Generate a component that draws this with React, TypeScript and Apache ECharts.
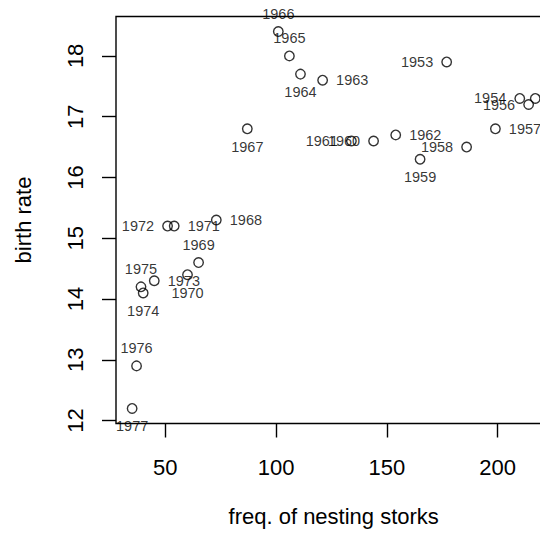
import React, { useEffect, useRef } from "react";
import * as echarts from "echarts";

const years = [
  1953, 1954, 1955, 1956, 1957, 1958, 1959, 1960, 1961, 1962, 1963, 1964, 1965,
  1966, 1967, 1968, 1969, 1970, 1971, 1972, 1973, 1974, 1975, 1976, 1977,
];
const storks = [
  177, 210, 217, 214, 199, 186, 165, 144, 134, 154, 121, 111, 106, 101, 87, 73,
  65, 60, 54, 51, 45, 40, 39, 37, 35,
];
const birthRate = [
  17.9, 17.3, 17.3, 17.2, 16.8, 16.5, 16.3, 16.6, 16.6, 16.7, 17.6, 17.7, 18.0,
  18.4, 16.8, 15.3, 14.6, 14.4, 15.2, 15.2, 14.3, 14.1, 14.2, 12.9, 12.2,
];
// R text() pos codes: 1 below, 2 left, 3 above, 4 right
const labelPos = [
  2, 2, 4, 2, 4, 2, 1, 2, 2, 4, 4, 1, 3, 3, 1, 4, 3, 1, 4, 2, 4, 1, 3, 3, 1,
];
const xTicks = [50, 100, 150, 200];
const yTicks = [12, 13, 14, 15, 16, 17, 18];
const xTitle = "freq. of nesting storks";
const yTitle = "birth rate";

const FONT = "'Liberation Sans', Arial, Helvetica, sans-serif";

function rRange(v: number[]) {
  const lo = Math.min(...v);
  const hi = Math.max(...v);
  const d = (hi - lo) * 0.04;
  return [lo - d, hi + d];
}

const posMap: Record<number, { position: string; distance: number }> = {
  1: { position: "bottom", distance: 5 },
  2: { position: "left", distance: 8 },
  3: { position: "top", distance: 5 },
  4: { position: "right", distance: 8 },
};

export default function App() {
  const ref = useRef<HTMLDivElement>(null);
  useEffect(() => {
    if (!ref.current) return;
    const chart = echarts.init(ref.current, null, { renderer: "svg" });
    const [xMin, xMax] = rRange(storks);
    const [yMin, yMax] = rRange(birthRate);
    const data = years.map((yr, i) => ({
      name: String(yr),
      value: [storks[i], birthRate[i]],
      label: { ...posMap[labelPos[i]] },
    }));
    chart.setOption({
      animation: false,
      backgroundColor: "#ffffff",
      textStyle: { fontFamily: FONT, color: "#000" },
      grid: {
        left: 116,
        top: 16.5,
        width: 435.4,
        height: 407,
        containLabel: false,
        outerBoundsMode: "none",
        show: true,
        borderColor: "#000",
        borderWidth: 1.4,
        backgroundColor: "transparent",
      },
      xAxis: {
        type: "value",
        min: xMin,
        max: xMax,
        name: xTitle,
        nameLocation: "middle",
        nameGap: 82,
        nameTextStyle: { fontSize: 22, color: "#000", fontFamily: FONT },
        axisLine: { show: false },
        splitLine: { show: false },
        axisTick: {
          show: true,
          length: 14,
          customValues: xTicks,
          lineStyle: { color: "#000", width: 1.4 },
        },
        axisLabel: {
          show: true,
          customValues: xTicks,
          margin: 33,
          fontSize: 22,
          color: "#000",
          fontFamily: FONT,
        },
      },
      yAxis: {
        type: "value",
        min: yMin,
        max: yMax,
        name: yTitle,
        nameLocation: "middle",
        nameGap: 82,
        nameRotate: 90,
        nameTextStyle: { fontSize: 22, color: "#000", fontFamily: FONT },
        axisLine: { show: false },
        splitLine: { show: false },
        axisTick: {
          show: true,
          length: 14,
          customValues: yTicks,
          lineStyle: { color: "#000", width: 1.4 },
        },
        axisLabel: {
          show: true,
          customValues: yTicks,
          rotate: 90,
          margin: 30,
          fontSize: 22,
          color: "#000",
          fontFamily: FONT,
        },
      },
      series: [
        {
          type: "scatter",
          data,
          symbol: "circle",
          symbolSize: 9.5,
          clip: false,
          itemStyle: {
            color: "rgba(0,0,0,0)",
            borderColor: "#000",
            borderWidth: 1.4,
          },
          label: {
            show: true,
            formatter: "{b}",
            fontSize: 14.5,
            color: "#000",
            fontFamily: FONT,
          },
          emphasis: { disabled: true },
        },
      ],
    });
    return () => chart.dispose();
  }, []);
  return (
    <div
      ref={ref}
      style={{
        position: "fixed",
        left: 0,
        top: 0,
        width: 540,
        height: 535,
        background: "#fff",
      }}
    />
  );
}
